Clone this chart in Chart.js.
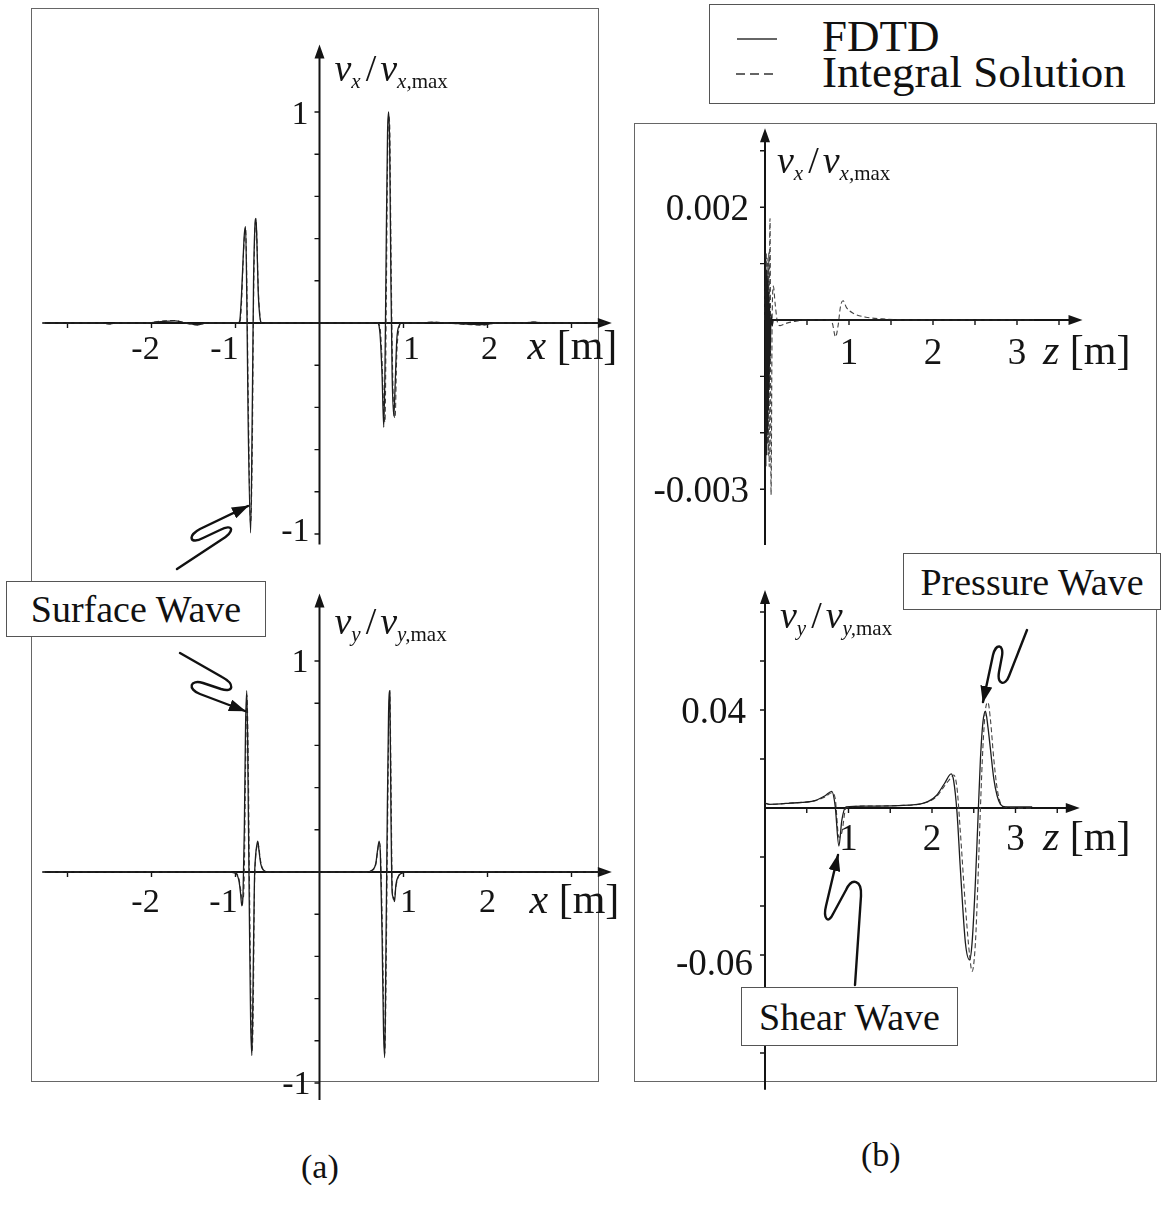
<!DOCTYPE html>
<html>
<head>
<meta charset="utf-8">
<title>Velocity profiles</title>
<script src="https://cdn.jsdelivr.net/npm/chart.js@4.4.1/dist/chart.umd.min.js"></script>
<style>
  body { margin: 0; background: #fff; }
  #page { position: relative; width: 1161px; height: 1215px; overflow: hidden; color: #111;
          font-family: "Liberation Serif", "DejaVu Serif", serif; }
  .frame { position: absolute; border: 1px solid #666; box-sizing: border-box; }
  .plot { position: absolute; z-index: 1; }
  .callout { position: absolute; z-index: 2; border: 1px solid #555; background: #fff; box-sizing: border-box;
             font-size: 38px; display: flex; align-items: center; justify-content: center; white-space: nowrap; }
  .legend { position: absolute; left: 709px; top: 4px; width: 446px; height: 100px; border: 1px solid #555;
            box-sizing: border-box; background: #fff; }
  .legend span { position: absolute; left: 112px; font-size: 45px; line-height: 45px; white-space: nowrap; }
  .tag { position: absolute; font-size: 34px; line-height: 34px; }
  #ink { position: absolute; left: 0; top: 0; z-index: 3; pointer-events: none; }
</style>
</head>
<body>
<div id="page">
  <div class="frame" style="left:31px; top:8px; width:568px; height:1074px;"></div>
  <div class="frame" style="left:634px; top:123px; width:523px; height:959px;"></div>

  <div class="plot" style="left:35px; top:35px;"><canvas id="vxCanvas" width="590" height="525"></canvas></div>
  <div class="plot" style="left:35px; top:580px;"><canvas id="vyCanvas" width="590" height="535"></canvas></div>
  <div class="plot" style="left:640px; top:120px;"><canvas id="bxCanvas" width="510" height="440"></canvas></div>
  <div class="plot" style="left:640px; top:575px;"><canvas id="byCanvas" width="510" height="530"></canvas></div>

  <div class="legend">
    <span style="top:9px;">FDTD</span>
    <span style="top:45px;">Integral Solution</span>
  </div>

  <div class="callout" style="left:6px; top:581px; width:260px; height:56px;">Surface Wave</div>
  <div class="callout" style="left:903px; top:553px; width:258px; height:57px;">Pressure Wave</div>
  <div class="callout" style="left:741px; top:987px; width:217px; height:59px;">Shear Wave</div>

  <div class="tag" style="left:301px; top:1150px;">(a)</div>
  <div class="tag" style="left:861px; top:1138px;">(b)</div>

  <svg id="ink" width="1161" height="1215">
    <defs>
      <marker id="head" markerWidth="17" markerHeight="12" refX="16" refY="6" orient="auto" markerUnits="userSpaceOnUse">
        <path d="M0,0 L17,6 L0,12 Z" fill="#111"/>
      </marker>
    </defs>
    <!-- legend samples -->
    <line x1="737" y1="39" x2="777" y2="39" stroke="#333" stroke-width="1.3"/>
    <line x1="736" y1="74" x2="777" y2="74" stroke="#333" stroke-width="1.3" stroke-dasharray="9 5"/>
    <!-- squiggle pointers -->
    <g fill="none" stroke="#111" stroke-width="2.4" stroke-linecap="round" stroke-linejoin="round">
      <path d="M177,569 L221,540 C236,531 233,523 220,530 L203,538 C190,545 187,536 200,529 L248,506" marker-end="url(#head)"/>
      <path d="M180,653 L222,677 C235,684 234,693 221,689 L203,683 C190,679 187,689 200,694 L245,711" marker-end="url(#head)"/>
      <path d="M1027,630 L1009,676 C1005,687 997,684 999,672 L1002,656 C1004,644 996,643 993,655 L983,702" marker-end="url(#head)"/>
      <path d="M855,985 L861,896 C862,880 852,877 846,890 L833,914 C828,925 823,918 826,906 L838,855" marker-end="url(#head)"/>
    </g>
  </svg>
</div>

<script>
// (a) upper: v_x / v_x,max along x [m]
const vxX = [
  -3.30, -3.00, -2.60, -2.50, -2.40, -2.10, -1.85, -1.72, -1.60, -1.45,
  -1.35, -1.20, -0.97, -0.95, -0.93, -0.91, -0.895, -0.88, -0.865, -0.85,
  -0.82, -0.80, -0.785, -0.77, -0.756, -0.745, -0.73, -0.71, -0.69, -0.40,
  0.00, 0.40, 0.69, 0.72, 0.745, 0.765, 0.78, 0.795, 0.81, 0.823,
  0.835, 0.85, 0.865, 0.885, 0.90, 0.92, 0.95, 0.97, 1.20, 1.35,
  1.50, 1.80, 1.95, 2.10, 2.40, 2.55, 2.70, 3.00, 3.40,
];
const vxFdtd = [
  0, 0, 0, -0.004, 0, 0, 0.008, 0.01, 0, -0.008,
  0, 0, 0, 0.01, 0.12, 0.30, 0.42, 0.457, 0.10, -0.45,
  -0.995, -0.40, 0.20, 0.45, 0.496, 0.38, 0.15, 0.03, 0, 0,
  0, 0, 0, -0.05, -0.25, -0.494, -0.20, 0.40, 0.90, 1.00,
  0.85, 0.20, -0.25, -0.44, -0.30, -0.08, -0.01, 0, 0, 0.003,
  0, -0.006, -0.008, 0, 0, 0.004, 0, 0, 0,
];
const vxIntegral = [
  0, 0, 0, -0.005, 0, 0, 0.01, 0.012, 0, -0.01,
  0, 0, 0, 0, 0.08, 0.28, 0.40, 0.45, 0.20, -0.30,
  -0.95, -0.60, 0.10, 0.42, 0.49, 0.40, 0.18, 0.04, 0, 0,
  0, 0, 0, -0.02, -0.18, -0.42, -0.47, 0.10, 0.75, 0.98,
  0.95, 0.40, -0.10, -0.42, -0.45, -0.15, -0.02, 0, 0, 0.005,
  0, -0.008, -0.01, 0, 0, 0.005, 0, 0, 0,
];

// (a) lower: v_y / v_y,max along x [m]
const vyX = [
  -3.30, -2.50, -1.60, -1.10, -1.00, -0.96, -0.94, -0.925, -0.91, -0.895,
  -0.88, -0.865, -0.85, -0.835, -0.82, -0.805, -0.79, -0.775, -0.76, -0.745,
  -0.735, -0.72, -0.70, -0.67, -0.60, 0.00, 0.55, 0.63, 0.67, 0.69,
  0.71, 0.725, 0.745, 0.762, 0.777, 0.79, 0.805, 0.822, 0.837, 0.85,
  0.865, 0.88, 0.893, 0.91, 0.94, 0.98, 1.05, 1.60, 2.50, 3.40,
];
const vyFdtd = [
  0, 0.002, 0, 0, -0.005, -0.04, -0.10, -0.16, -0.10, 0.20,
  0.70, 0.86, 0.40, -0.20, -0.70, -0.87, -0.50, -0.05, 0.08, 0.13,
  0.146, 0.10, 0.04, 0.01, 0, 0, 0, 0.01, 0.04, 0.10,
  0.146, 0.08, -0.30, -0.75, -0.88, -0.40, 0.20, 0.75, 0.86, 0.30,
  -0.10, -0.12, -0.14, -0.06, -0.02, -0.005, 0, 0, 0.002, 0,
];
const vyIntegral = [
  0, 0.002, 0, 0, -0.004, -0.03, -0.08, -0.12, -0.13, 0.00,
  0.50, 0.84, 0.60, 0.00, -0.50, -0.85, -0.70, -0.10, 0.07, 0.12,
  0.14, 0.11, 0.05, 0.01, 0, 0, 0, 0.008, 0.035, 0.09,
  0.14, 0.10, -0.20, -0.60, -0.86, -0.60, 0.00, 0.60, 0.85, 0.50,
  -0.05, -0.13, -0.12, -0.07, -0.02, -0.005, 0, 0, 0.002, 0,
];

// (b) upper: v_x / v_x,max along z [m]
const bxZ = [
  0, 0.005, 0.01, 0.015, 0.02, 0.025, 0.03, 0.035, 0.04, 0.045,
  0.05, 0.055, 0.06, 0.072, 0.085, 0.10, 0.12, 0.15, 0.18, 0.25,
  0.37, 0.50, 0.75, 0.80, 0.84, 0.87, 0.90, 0.93, 0.97, 1.05,
  1.20, 1.40, 1.70, 2.50, 3.20,
];
const bxFdtd = [
  0, 0.0010, -0.0026, 0.0009, -0.0024, 0.0008, -0.0020, 0.0007, -0.0016, 0.0005,
  -0.0012, 0.0003, -0.0007, 0.0001, -0.0001, 0, 0, 0, 0, 0,
  0, 0, 0, 0, 0, 0, 0, 0, 0, 0,
  0, 0, 0, 0, 0,
];
const bxIntegral = [
  0, 0.0006, -0.0012, 0.0012, -0.0018, 0.0011, -0.0022, 0.0010, -0.0024, 0.0012,
  -0.0026, 0.0011, 0.0018, -0.0031, 0.0000, 0.0006, 0.0003, -0.00005, -0.0001, -0.00006,
  -0.00002, 0, 0, -0.00005, -0.0003, -0.0001, 0.00025, 0.00034, 0.00022, 0.00012,
  0.00005, 0.00002, 0, 0, 0,
];

// (b) lower: v_y / v_y,max along z [m]
const byZ = [
  0, 0.05, 0.30, 0.60, 0.72, 0.80, 0.84, 0.885, 0.92, 0.97,
  1.20, 1.60, 1.90, 2.05, 2.15, 2.23, 2.26, 2.30, 2.34, 2.40,
  2.45, 2.48, 2.52, 2.55, 2.58, 2.61, 2.64, 2.67, 2.70, 2.74,
  2.78, 2.82, 2.88, 3.20,
];
const byFdtd = [
  0.002, 0.0015, 0.002, 0.003, 0.005, 0.0068, 0.001, -0.0155, -0.005, 0.0005,
  0.0008, 0.001, 0.002, 0.005, 0.010, 0.0139, 0.011, -0.002, -0.025, -0.055,
  -0.062, -0.055, -0.030, -0.005, 0.020, 0.035, 0.0395, 0.033, 0.024, 0.012,
  0.005, 0.0015, 0.0005, 0.0005,
];
const byIntegral = [
  0.002, 0.0015, 0.002, 0.003, 0.0045, 0.0062, 0.004, -0.012, -0.010, 0.0,
  0.0008, 0.001, 0.002, 0.0045, 0.009, 0.0125, 0.0135, 0.008, -0.010, -0.040,
  -0.060, -0.0667, -0.055, -0.030, 0.000, 0.025, 0.040, 0.0431, 0.036, 0.020,
  0.008, 0.002, 0.0003, 0,
];

// axis ticks and their labels
const xTicksA = [-3, -2, -1, 1, 2, 3];
const yTicksA = [-1, -0.8, -0.6, -0.4, -0.2, 0.2, 0.4, 0.6, 0.8, 1];
const xLabelsA = ['-2', '-1', '1', '2'];
const yLabelsA = ['1', '-1'];
const zTicks = [0.5, 1, 1.5, 2, 2.5, 3, 3.5];
const zLabels = ['1', '2', '3'];
const yTicksBx = [-0.003, -0.002, -0.001, 0.001, 0.002, 0.003];
const yLabelsBx = ['0.002', '-0.003'];
const yTicksBy = [-0.1, -0.08, -0.06, -0.04, -0.02, 0.02, 0.04, 0.06, 0.08];
const yLabelsBy = ['0.04', '-0.06'];

const INK = '#141414';
const SERIF = '"Liberation Serif", "DejaVu Serif", serif';

const panels = [
  {
    canvas: 'vxCanvas', box: { left: 35, top: 35, width: 590, height: 525 },
    origin: [319.5, 323], unit: [84, 211], xSpan: [-3.27, 3.48], ySpan: [-1.05, 1.32],
    xs: vxX, fdtd: vxFdtd, integral: vxIntegral,
    xTicks: xTicksA, yTicks: yTicksA, xLabels: xLabelsA, yLabels: yLabelsA,
    xFont: 34, yFont: 34, xDrop: 36, nudge: { '-2': -6, '-1': -11, '1': 8, '2': 2 },
    yPlace: { '1': [11, 12], '-1': [10, 7] },
    title: { comp: 'x', dx: 15, dy: -242 }, axisName: { sym: 'x', dx: 208, dy: 36 },
  },
  {
    canvas: 'vyCanvas', box: { left: 35, top: 580, width: 590, height: 535 },
    origin: [319.5, 872], unit: [84, 211], xSpan: [-3.27, 3.48], ySpan: [-1.08, 1.32],
    xs: vyX, fdtd: vyFdtd, integral: vyIntegral,
    xTicks: xTicksA, yTicks: yTicksA, xLabels: xLabelsA, yLabels: yLabelsA,
    xFont: 34, yFont: 34, xDrop: 40, nudge: { '-2': -6, '-1': -12, '1': 5, '2': 0 },
    yPlace: { '1': [11, 11], '-1': [9, 11] },
    title: { comp: 'y', dx: 15, dy: -238 }, axisName: { sym: 'x', dx: 210, dy: 41 },
  },
  {
    canvas: 'bxCanvas', box: { left: 640, top: 120, width: 510, height: 440 },
    origin: [765, 320], unit: [84, 56400], xSpan: [0, 3.78], ySpan: [-0.00399, 0.0034],
    xs: bxZ, fdtd: bxFdtd, integral: bxIntegral,
    xTicks: zTicks, yTicks: yTicksBx, xLabels: zLabels, yLabels: yLabelsBx,
    xFont: 37, yFont: 37, xDrop: 44, nudge: {},
    yPlace: { '0.002': [16, 13], '-0.003': [16, 13] },
    title: { comp: 'x', dx: 12, dy: -147 }, axisName: { sym: 'z', dx: 278, dy: 44 },
  },
  {
    canvas: 'byCanvas', box: { left: 640, top: 575, width: 510, height: 530 },
    origin: [765, 808], unit: [83.5, 2450], xSpan: [0, 3.77], ySpan: [-0.115, 0.089],
    xs: byZ, fdtd: byFdtd, integral: byIntegral,
    xTicks: zTicks, yTicks: yTicksBy, xLabels: zLabels, yLabels: yLabelsBy,
    xFont: 37, yFont: 37, xDrop: 42, nudge: {},
    yPlace: { '0.04': [19, 13], '-0.06': [12, 20] },
    title: { comp: 'y', dx: 15, dy: -180 }, axisName: { sym: 'z', dx: 278, dy: 42 },
  },
];

function drawRich(ctx, parts, x, y) {
  let cx = x;
  parts.forEach((p) => {
    ctx.font = p.font;
    ctx.fillText(p.text, cx, y + (p.dy || 0));
    cx += ctx.measureText(p.text).width + (p.gap || 0);
  });
}

function velocityTitle(comp) {
  const big = `italic 38px ${SERIF}`;
  const sub = `italic 21px ${SERIF}`;
  return [
    { text: 'v', font: big },
    { text: comp, font: sub, dy: 7, gap: 5 },
    { text: '/', font: `38px ${SERIF}`, gap: 4 },
    { text: 'v', font: big },
    { text: comp + ',', font: sub, dy: 7 },
    { text: 'max', font: `21px ${SERIF}`, dy: 7 },
  ];
}

// axes crossing at the origin, with arrow tips, ticks and labels
function originAxes(panel) {
  return {
    id: 'originAxes',
    beforeDatasetsDraw(chart) {
      const { ctx } = chart;
      const { x, y } = chart.scales;
      const x0 = x.getPixelForValue(0);
      const y0 = y.getPixelForValue(0);
      const xa = x.getPixelForValue(panel.xSpan[0]);
      const xb = x.getPixelForValue(panel.xSpan[1]);
      const ya = y.getPixelForValue(panel.ySpan[0]);
      const yb = y.getPixelForValue(panel.ySpan[1]);
      ctx.save();
      ctx.strokeStyle = INK;
      ctx.fillStyle = INK;
      ctx.lineWidth = 2;
      ctx.beginPath();
      ctx.moveTo(xa, y0); ctx.lineTo(xb - 8, y0);
      ctx.moveTo(x0, ya); ctx.lineTo(x0, yb + 8);
      ctx.stroke();
      ctx.beginPath();
      ctx.moveTo(xb, y0); ctx.lineTo(xb - 14, y0 - 5); ctx.lineTo(xb - 14, y0 + 5); ctx.closePath();
      ctx.moveTo(x0, yb); ctx.lineTo(x0 - 5, yb + 14); ctx.lineTo(x0 + 5, yb + 14); ctx.closePath();
      ctx.fill();
      ctx.lineWidth = 1.4;
      ctx.beginPath();
      panel.xTicks.forEach((v) => {
        const px = x.getPixelForValue(v);
        ctx.moveTo(px, y0); ctx.lineTo(px, y0 + 5);
      });
      panel.yTicks.forEach((v) => {
        const py = y.getPixelForValue(v);
        ctx.moveTo(x0 - 5, py); ctx.lineTo(x0, py);
      });
      ctx.stroke();
      ctx.restore();
    },
    afterDatasetsDraw(chart) {
      const { ctx } = chart;
      const { x, y } = chart.scales;
      const x0 = x.getPixelForValue(0);
      const y0 = y.getPixelForValue(0);
      ctx.save();
      ctx.fillStyle = INK;
      ctx.textAlign = 'center';
      ctx.font = `${panel.xFont}px ${SERIF}`;
      panel.xLabels.forEach((t) => {
        ctx.fillText(t, x.getPixelForValue(Number(t)) + (panel.nudge[t] || 0), y0 + panel.xDrop);
      });
      ctx.textAlign = 'right';
      ctx.font = `${panel.yFont}px ${SERIF}`;
      panel.yLabels.forEach((t) => {
        const [gap, drop] = panel.yPlace[t];
        ctx.fillText(t, x0 - gap, y.getPixelForValue(Number(t)) + drop);
      });
      ctx.textAlign = 'left';
      drawRich(ctx, velocityTitle(panel.title.comp), x0 + panel.title.dx, y0 + panel.title.dy);
      drawRich(ctx, [
        { text: panel.axisName.sym, font: `italic 42px ${SERIF}` },
        { text: ' [m]', font: `42px ${SERIF}` },
      ], x0 + panel.axisName.dx, y0 + panel.axisName.dy);
      ctx.restore();
    },
  };
}

function frameRange(panel) {
  const { box, origin, unit } = panel;
  return {
    xMin: (box.left - origin[0]) / unit[0],
    xMax: (box.left + box.width - origin[0]) / unit[0],
    yMin: (origin[1] - box.top - box.height) / unit[1],
    yMax: (origin[1] - box.top) / unit[1],
  };
}

panels.forEach((panel) => {
  const r = frameRange(panel);
  new Chart(document.getElementById(panel.canvas), {
    type: 'line',
    data: {
      datasets: [
        {
          label: 'FDTD',
          data: panel.xs.map((v, i) => ({ x: v, y: panel.fdtd[i] })),
          borderColor: '#1c1c1c', borderWidth: 1.3, pointRadius: 0,
          cubicInterpolationMode: 'monotone', borderJoinStyle: 'round',
        },
        {
          label: 'Integral Solution',
          data: panel.xs.map((v, i) => ({ x: v, y: panel.integral[i] })),
          borderColor: '#444', borderWidth: 1.1, borderDash: [5, 3], pointRadius: 0,
          cubicInterpolationMode: 'monotone', borderJoinStyle: 'round',
        },
      ],
    },
    options: {
      responsive: false,
      animation: false,
      devicePixelRatio: 1,
      events: [],
      layout: { padding: 0 },
      scales: {
        x: { type: 'linear', min: r.xMin, max: r.xMax, display: false },
        y: { type: 'linear', min: r.yMin, max: r.yMax, display: false },
      },
      plugins: { legend: { display: false }, tooltip: { enabled: false } },
    },
    plugins: [originAxes(panel)],
  });
});
</script>
</body>
</html>
